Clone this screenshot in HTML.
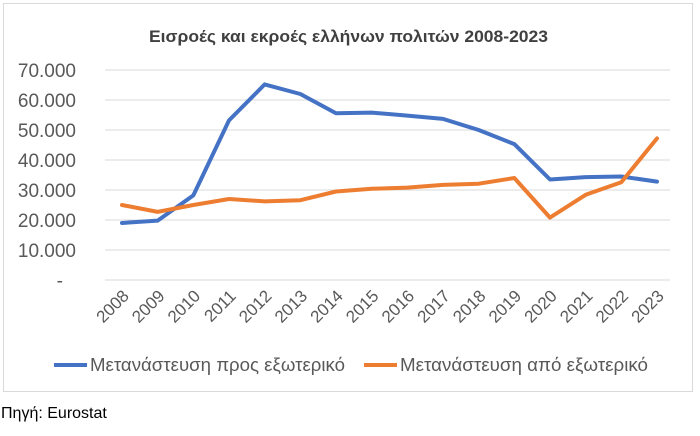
<!DOCTYPE html>
<html><head><meta charset="utf-8"><style>
body{margin:0;width:700px;height:431px;background:#fff;font-family:"Liberation Sans",sans-serif;overflow:hidden}
</style></head><body>
<svg width="700" height="431">
<rect x="3.5" y="3.5" width="689" height="388" fill="#fff" stroke="#d9d9d9"/>
<text x="149" y="42" font-size="17" font-weight="bold" fill="#404040" textLength="399" lengthAdjust="spacingAndGlyphs">Εισροές και εκροές ελλήνων πολιτών 2008-2023</text>
<g id="grid"></g><g id="yl"></g><g id="xl"></g><g id="series"></g>
<g>
<line x1="54" y1="365" x2="87" y2="365" stroke="#4472c4" stroke-width="4"/>
<text x="90" y="371" font-size="18" fill="#595959" textLength="255" lengthAdjust="spacingAndGlyphs">Μετανάστευση προς εξωτερικό</text>
<line x1="364" y1="365" x2="397" y2="365" stroke="#ed7d31" stroke-width="4"/>
<text x="400" y="371" font-size="18" fill="#595959" textLength="248" lengthAdjust="spacingAndGlyphs">Μετανάστευση από εξωτερικό</text>
</g>
<text x="1" y="418" font-size="16" fill="#000">Πηγή: Eurostat</text>
</svg>
<script>
const years=["2008","2009","2010","2011","2012","2013","2014","2015","2016","2017","2018","2019","2020","2021","2022","2023"];
const outflow=[19000,19800,28200,53200,65200,62000,55600,55800,54800,53700,50000,45300,33500,34300,34500,32800];
const inflow=[25000,22700,25000,27000,26200,26600,29500,30400,30800,31700,32100,34000,20800,28400,32600,47200];
const yTicks=[0,10000,20000,30000,40000,50000,60000,70000];
const yTickLabels=["-","10.000","20.000","30.000","40.000","50.000","60.000","70.000"];
const NS="http://www.w3.org/2000/svg";
const x=i=>122+i*(657-122)/(years.length-1);
const y=v=>280-v*(280-70)/70000;
function mk(t,a,p){const e=document.createElementNS(NS,t);for(const k in a)e.setAttribute(k,a[k]);p.appendChild(e);return e;}
const grid=document.getElementById('grid'),yl=document.getElementById('yl'),xl=document.getElementById('xl'),se=document.getElementById('series');
yTicks.forEach((v,i)=>{
 const l=mk('line',{x1:105,x2:670,y1:y(v),y2:y(v),stroke:'#d9d9d9','stroke-width':1},grid);
 
 
 const t=mk('text',{x:i==0?63:76,y:y(v)+7,'text-anchor':'end','font-size':19,fill:'#595959'},yl);
 t.textContent=yTickLabels[i];
 
 
});
years.forEach((yr,i)=>{
 const t=mk('text',{x:0,y:0,'text-anchor':'end','font-size':17,fill:'#595959',transform:`translate(${x(i)+8},${297}) rotate(-45)`},xl);
 t.textContent=yr;
 
 
});
[[outflow,'#4472c4','line-outflow'],[inflow,'#ed7d31','line-inflow']].forEach(([d,c,n])=>{
 const p=mk('polyline',{points:d.map((v,i)=>x(i)+','+y(v)).join(' '),fill:'none',stroke:c,'stroke-width':4,'stroke-linejoin':'round','stroke-linecap':'round'},se);
 
 
});
</script>
</body></html>
